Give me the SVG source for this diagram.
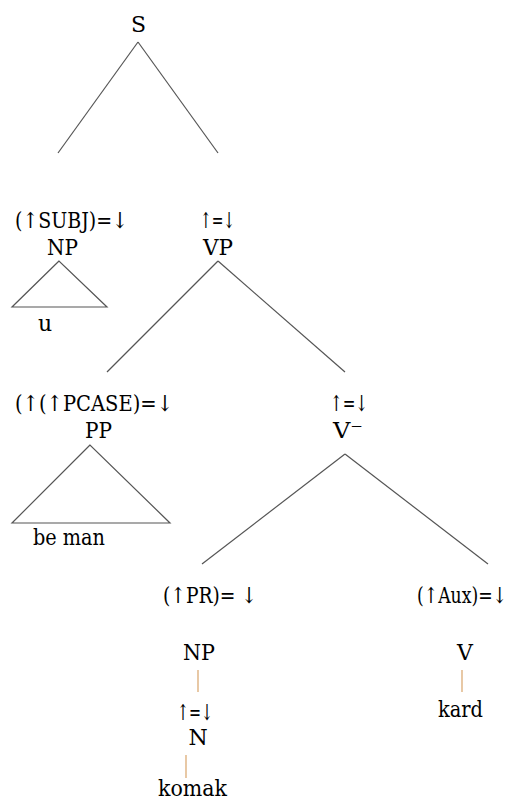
<svg xmlns="http://www.w3.org/2000/svg" width="517" height="803" viewBox="0 0 517 803">
<style>
text{font-family:'DejaVu Serif',serif;font-size:22px;fill:#000;text-anchor:middle}
.e{stroke:#555;stroke-width:1.2;fill:none}
.b{stroke:#d9a46a;stroke-width:1.2}
</style>
<rect width="517" height="803" fill="#fff"/>
<g id="connectors">
<line class="e" x1="138" y1="42" x2="58" y2="153"/>
<line class="e" x1="138" y1="42" x2="218" y2="153"/>
<line class="e" x1="218" y1="261" x2="107" y2="372"/>
<line class="e" x1="218" y1="261" x2="345" y2="372"/>
<line class="e" x1="345" y1="454" x2="202" y2="564"/>
<line class="e" x1="345" y1="454" x2="488" y2="564"/>
<line class="b" x1="198" y1="670" x2="198" y2="692"/>
<line class="b" x1="186" y1="755" x2="186" y2="778"/>
<line class="b" x1="462" y1="670" x2="462" y2="692"/>
</g>
<g id="S"><text x="138.5" y="32">S</text></g>
<g id="NP1">
<text x="71.5" y="228" textLength="113" lengthAdjust="spacingAndGlyphs">(↑SUBJ)=↓</text>
<text x="62.5" y="255" textLength="31" lengthAdjust="spacingAndGlyphs">NP</text>
<polygon class="e" points="59,261 12,307 107,307"/>
<text x="45" y="331">u</text>
</g>
<g id="VP">
<text x="217.5" y="228" textLength="35" lengthAdjust="spacingAndGlyphs">↑=↓</text>
<text x="218" y="255" textLength="30" lengthAdjust="spacingAndGlyphs">VP</text>
</g>
<g id="PP">
<text x="94" y="411" textLength="158" lengthAdjust="spacingAndGlyphs">(↑(↑PCASE)=↓</text>
<text x="98.5" y="438" textLength="27" lengthAdjust="spacingAndGlyphs">PP</text>
<polygon class="e" points="90,445 12,523 170,523"/>
<text x="69" y="545" textLength="72" lengthAdjust="spacingAndGlyphs">be man</text>
</g>
<g id="Vbar">
<text x="349" y="411" textLength="38" lengthAdjust="spacingAndGlyphs">↑=↓</text>
<text x="348" y="438" textLength="30" lengthAdjust="spacingAndGlyphs">V⁻</text>
</g>
<g id="NP2">
<text x="210" y="603" textLength="94" lengthAdjust="spacingAndGlyphs">(↑PR)= ↓</text>
<text x="199" y="660" textLength="32" lengthAdjust="spacingAndGlyphs">NP</text>
</g>
<g id="N">
<text x="195" y="720" textLength="36" lengthAdjust="spacingAndGlyphs">↑=↓</text>
<text x="198" y="745">N</text>
<text x="192.5" y="796" textLength="69" lengthAdjust="spacingAndGlyphs">komak</text>
</g>
<g id="V">
<text x="462" y="603" textLength="90" lengthAdjust="spacingAndGlyphs">(↑Aux)=↓</text>
<text x="465" y="660">V</text>
<text x="460.5" y="717" textLength="45" lengthAdjust="spacingAndGlyphs">kard</text>
</g>
</svg>
